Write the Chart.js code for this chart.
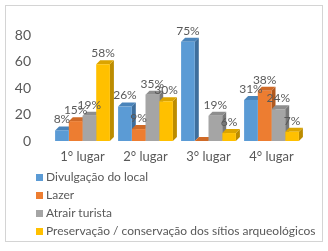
<!DOCTYPE html>
<html>
<head>
<meta charset="utf-8">
<script src="https://cdn.jsdelivr.net/npm/chart.js@4"></script>
<style>
  body{margin:0;background:#fff;font-family:Lato,"Open Sans",sans-serif}
  #box{position:absolute;left:5px;top:5px;width:316px;height:235px;border:1px solid #d4d4d4;background:#fff}
  #wrap{position:absolute;left:0;top:0;width:316px;height:166px}
  #legend{position:absolute;left:30px;top:162px;font-size:12px;color:#595959;line-height:18px}
  #legend div{white-space:nowrap}
  #legend span{display:inline-block;width:7px;height:7px;margin-right:3px;vertical-align:0px}
</style>
</head>
<body>
<div id="box">
  <div id="wrap"><canvas id="c" width="316" height="166"></canvas></div>
  <div id="legend"></div>
</div>
<script>
const categories = ['1° lugar','2° lugar','3° lugar','4° lugar'];
const seriesNames = ['Divulgação do local','Lazer','Atrair turista','Preservação / conservação dos sítios arqueológicos'];
const divulgacao = [8, 26, 75, 31];
const lazer      = [15, 9, 0, 38];
const atrair     = [19, 35, 19, 24];
const preserv    = [58, 30, 6, 7];
const colors = ['#5B9BD5','#ED7D31','#A5A5A5','#FFC000'];
const sides  = ['#3E6E9C','#B0591F','#787878','#BC8C00'];
const tops   = ['#4A84BA','#CF6A27','#8E8E8E','#DBA400'];
const yTicks = [0,20,40,60,80];

const D = 4; // fake 3D depth
const FONT = 'Lato,"Open Sans",sans-serif';

const fake3d = {
  id:'fake3d',
  beforeDatasetsDraw(chart){
    const ctx = chart.ctx;
    chart.data.datasets.forEach((ds,i)=>{
      chart.getDatasetMeta(i).data.forEach(b=>{
        const l = b.x - b.width/2, r = b.x + b.width/2, y = b.y, base = b.base;
        ctx.fillStyle = sides[i];
        ctx.beginPath();
        ctx.moveTo(r,y); ctx.lineTo(r+D,y-D); ctx.lineTo(r+D,base-D); ctx.lineTo(r,base);
        ctx.closePath(); ctx.fill();
        ctx.fillStyle = tops[i];
        ctx.beginPath();
        ctx.moveTo(l,y); ctx.lineTo(l+D,y-D); ctx.lineTo(r+D,y-D); ctx.lineTo(r,y);
        ctx.closePath(); ctx.fill();
      });
    });
  },
  afterDatasetsDraw(chart){
    const ctx = chart.ctx;
    ctx.font = '12px ' + FONT;
    ctx.fillStyle = '#595959';
    ctx.textAlign = 'center';
    ctx.textBaseline = 'bottom';
    chart.data.datasets.forEach((ds,i)=>{
      chart.getDatasetMeta(i).data.forEach((b,j)=>{
        const v = ds.data[j];
        if (!v) return;
        ctx.fillText(v+'%', b.x, b.y - D - 1);
      });
    });
  }
};

const chart = new Chart(document.getElementById('c'), {
  type:'bar',
  data:{
    labels:categories,
    datasets:[divulgacao,lazer,atrair,preserv].map((d,i)=>({
      label:seriesNames[i], data:d, backgroundColor:colors[i],
      categoryPercentage:0.87, barPercentage:1.0
    }))
  },
  options:{
    responsive:false, animation:false,
    layout:{padding:{top:29,right:19,bottom:0,left:0}},
    plugins:{legend:{display:false}, tooltip:{enabled:false}},
    scales:{
      x:{
        grid:{display:false}, border:{display:false},
        afterFit(ax){ ax.height = 31; },
        ticks:{color:'#595959', font:{size:13, family:FONT}, padding:0}
      },
      y:{
        min:0, max:80,
        afterBuildTicks(ax){ ax.ticks = yTicks.map(v=>({value:v})); },
        afterFit(ax){ ax.width = 45; },
        grid:{display:false}, border:{display:false},
        ticks:{color:'#595959', font:{size:14, family:FONT}, padding:12}
      }
    }
  },
  plugins:[fake3d]
});

document.getElementById('legend').innerHTML = seriesNames.map((n,i)=>
  `<div><span style="background:${colors[i]}"></span>${n}</div>`).join('');
</script>
</body>
</html>
